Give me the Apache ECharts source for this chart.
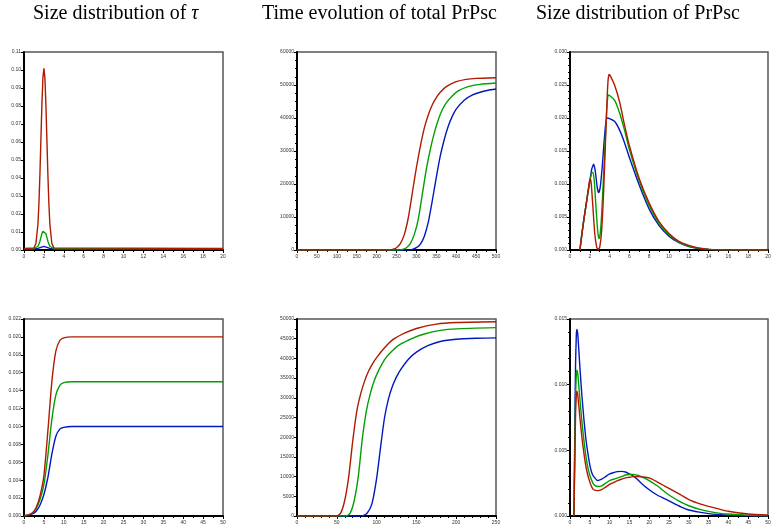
<!DOCTYPE html>
<html><head><meta charset="utf-8">
<script src="https://cdn.jsdelivr.net/npm/echarts@6/dist/echarts.min.js"></script>
<style>html,body{margin:0;padding:0;background:#fff}#c{width:777px;height:531px}</style>
</head><body><div id="c"></div>
<script>
// Panel 1: size distribution of tau
var tauX     = [0, 1.0, 1.2, 1.4, 1.5, 1.6, 1.7, 1.8, 1.9, 2.0, 2.1, 2.2, 2.3, 2.4, 2.5, 2.6, 2.8, 3.0, 20];
var tauRed   = [0.0008, 0.0012, 0.0036, 0.0143, 0.0258, 0.0420, 0.0616, 0.0810, 0.0956, 0.1010, 0.0956, 0.0810, 0.0616, 0.0420, 0.0258, 0.0143, 0.0036, 0.0012, 0.0008];
var tauGreen = [0.0007, 0.0007, 0.0010, 0.0021, 0.0033, 0.0049, 0.0070, 0.0090, 0.0104, 0.0110, 0.0104, 0.0090, 0.0070, 0.0049, 0.0033, 0.0021, 0.0010, 0.0007, 0.0007];
var tauBlue  = [0.0007, 0.0007, 0.0007, 0.0009, 0.0010, 0.0012, 0.0015, 0.0017, 0.0019, 0.0020, 0.0019, 0.0017, 0.0015, 0.0012, 0.0010, 0.0009, 0.0007, 0.0007, 0.0007];

// Panel 2: time evolution of total PrPsc
var totRedX   = [0, 230, 240, 250, 260, 270, 280, 290, 300, 310, 320, 330, 340, 350, 360, 375, 400, 425, 450, 500];
var totRed    = [0, 0, 200, 700, 2000, 4800, 10000, 17500, 25000, 31500, 37000, 41000, 44000, 46200, 47800, 49500, 51000, 51700, 52000, 52200];
var totGreenX = [0, 255, 265, 275, 285, 295, 305, 315, 325, 335, 345, 355, 365, 375, 390, 405, 430, 460, 500];
var totGreen  = [0, 0, 200, 700, 2000, 4800, 9500, 17000, 24500, 30500, 35500, 39500, 42500, 44600, 46700, 48200, 49500, 50200, 50600];
var totBlueX  = [0, 280, 290, 300, 310, 320, 330, 340, 350, 360, 370, 380, 390, 400, 420, 440, 460, 480, 500];
var totBlue   = [0, 0, 200, 700, 1800, 4200, 8500, 15000, 22000, 28500, 33500, 37500, 40500, 42700, 45400, 46900, 47800, 48400, 48800];

// Panel 3: size distribution of PrPsc
var szRedX   = [1.0, 1.2, 1.4, 1.6, 1.8, 1.95, 2.05, 2.15, 2.3, 2.5, 2.7, 2.85, 3.0, 3.2, 3.4, 3.6, 3.75, 3.85, 3.95, 4.1, 4.5, 5, 5.5, 6, 7, 8, 9, 10, 11, 12, 13, 14, 16, 20];
var szRed    = [0, 0.0024, 0.0046, 0.0066, 0.0086, 0.0103, 0.0108, 0.0100, 0.0068, 0.0025, 0.0004, 0.0001, 0.0004, 0.0030, 0.0090, 0.0170, 0.0230, 0.0258, 0.0266, 0.0263, 0.0250, 0.0225, 0.0190, 0.0158, 0.0108, 0.0071, 0.0043, 0.0025, 0.0013, 0.0007, 0.0003, 0.0001, 0.00002, 0];
var szGreenX = [1.0, 1.2, 1.4, 1.6, 1.8, 2.0, 2.15, 2.3, 2.45, 2.6, 2.8, 2.92, 3.05, 3.2, 3.4, 3.6, 3.75, 3.87, 4.0, 4.5, 5, 5.5, 6, 7, 8, 9, 10, 11, 12, 13, 14, 16, 20];
var szGreen  = [0, 0.0024, 0.0046, 0.0066, 0.0086, 0.0104, 0.0114, 0.0118, 0.0105, 0.0070, 0.0028, 0.0017, 0.0025, 0.0055, 0.0115, 0.0180, 0.0222, 0.0235, 0.0234, 0.0227, 0.0208, 0.0182, 0.0152, 0.0104, 0.0067, 0.0040, 0.0023, 0.0012, 0.0006, 0.00025, 0.0001, 0.00002, 0];
var szBlueX  = [1.0, 1.2, 1.4, 1.6, 1.8, 2.0, 2.2, 2.39, 2.55, 2.75, 2.89, 3.05, 3.25, 3.45, 3.6, 3.76, 4.0, 4.5, 5, 5.5, 6, 7, 8, 9, 10, 11, 12, 13, 14, 16, 20];
var szBlue   = [0, 0.0024, 0.0046, 0.0066, 0.0086, 0.0104, 0.0123, 0.0130, 0.0120, 0.0095, 0.0087, 0.0095, 0.0125, 0.0165, 0.0190, 0.0200, 0.0199, 0.0195, 0.0182, 0.0163, 0.0140, 0.0098, 0.0062, 0.0037, 0.0021, 0.0011, 0.0005, 0.0002, 0.0001, 0.00002, 0];

// Panel 4: second row, left
var t4X     = [0, 1, 2, 3, 4, 5, 6, 7, 8, 9, 10, 12, 50];
var t4Red   = [0, 0.0001, 0.0003, 0.0009, 0.0022, 0.0045, 0.0095, 0.0150, 0.0184, 0.0196, 0.0199, 0.0200, 0.0200];
var t4Green = [0, 0.0001, 0.0003, 0.0008, 0.0018, 0.0035, 0.0068, 0.0108, 0.0135, 0.0146, 0.0149, 0.0150, 0.0150];
var t4Blue  = [0, 0.0001, 0.0002, 0.0005, 0.0012, 0.0024, 0.0043, 0.0069, 0.0089, 0.0097, 0.0099, 0.0100, 0.0100];

// Panel 5: second row, middle
var t5RedX   = [0, 50, 55, 60, 65, 70, 75, 80, 85, 90, 95, 100, 110, 120, 135, 150, 175, 200, 250];
var t5Red    = [0, 0, 800, 4000, 10000, 19000, 26500, 31000, 34300, 36800, 38700, 40200, 42700, 44700, 46400, 47600, 48700, 49100, 49300];
var t5GreenX = [0, 62, 67, 72, 77, 82, 87, 92, 97, 102, 110, 120, 130, 145, 160, 180, 200, 250];
var t5Green  = [0, 0, 800, 4000, 10000, 19500, 26500, 31000, 34300, 36700, 39700, 42000, 43600, 45100, 46200, 47100, 47500, 47800];
var t5BlueX  = [0, 82, 88, 94, 100, 105, 110, 115, 120, 125, 130, 140, 150, 165, 180, 200, 225, 250];
var t5Blue   = [0, 0, 700, 3000, 9500, 17500, 25000, 29800, 33000, 35300, 37100, 39800, 41600, 43300, 44300, 44850, 45100, 45200];

// Panel 6: second row, right
var s6X     = [1.0, 1.2, 1.4, 1.6, 1.76, 2.0, 2.5, 3, 3.5, 4, 4.5, 5, 5.5, 6, 7, 8, 9, 10, 11, 12, 13, 14, 15, 16, 17, 18, 20, 22, 25, 28, 30, 33, 35, 38, 40, 45, 50];
var s6Red   = [0, 0.0040, 0.0077, 0.0092, 0.0095, 0.0091, 0.0075, 0.0060, 0.0048, 0.0038, 0.0031, 0.0026, 0.0022, 0.0020, 0.00193, 0.0020, 0.0022, 0.0024, 0.00255, 0.0027, 0.0028, 0.0029, 0.00295, 0.0030, 0.0030, 0.00298, 0.0029, 0.0026, 0.0021, 0.0016, 0.00125, 0.0009, 0.00073, 0.0005, 0.00036, 0.00015, 0.00008];
var s6Green = [0, 0.0048, 0.0090, 0.0108, 0.0111, 0.0107, 0.0089, 0.0072, 0.0058, 0.0046, 0.0037, 0.0031, 0.0027, 0.0024, 0.00225, 0.0023, 0.0025, 0.0027, 0.0028, 0.0029, 0.0030, 0.00312, 0.00316, 0.00317, 0.0031, 0.0030, 0.0027, 0.0023, 0.0016, 0.00105, 0.00078, 0.00048, 0.00035, 0.0002, 0.00015, 0.00006, 0.00002];
var s6Blue  = [0, 0.0060, 0.0115, 0.0138, 0.0142, 0.0137, 0.0113, 0.0092, 0.0074, 0.0059, 0.0048, 0.0039, 0.0033, 0.0030, 0.0027, 0.0028, 0.0030, 0.0032, 0.0033, 0.00338, 0.0034, 0.00335, 0.0032, 0.00303, 0.0028, 0.0025, 0.0020, 0.0016, 0.00115, 0.0007, 0.00046, 0.00028, 0.00018, 0.0001, 0.00006, 0.00002, 0];

var titles = ['Size distribution of {i|τ}', 'Time evolution of total PrPsc', 'Size distribution of PrPsc'];
var titleLeft = [33, 262, 536];

var RED = '#b01a00', GREEN = '#00a000', BLUE = '#0018c0';

function pairs(xs, ys) { return xs.map(function (x, i) { return [x, ys[i]]; }); }

var grids = [
  {left: 24, top: 52, width: 199, height: 198},
  {left: 297, top: 52, width: 199, height: 198},
  {left: 570, top: 52, width: 198, height: 198},
  {left: 24, top: 319, width: 199, height: 197},
  {left: 297, top: 319, width: 199, height: 197},
  {left: 570, top: 319, width: 198, height: 197}
];
grids.forEach(function (g) { g.show = true; g.borderColor = '#555'; g.borderWidth = 1.5; g.backgroundColor = '#fff'; });

var lab = {fontSize: 5, color: '#333', fontFamily: 'Liberation Sans'};
function xAx(i, max, interval, minorSplit) {
  return {type: 'value', gridIndex: i, min: 0, max: max, interval: interval,
    axisLine: {show: true, onZero: false, lineStyle: {color: '#000', width: 2}},
    axisTick: {show: true, inside: false, length: 3, lineStyle: {color: '#000', width: 1}},
    minorTick: {show: minorSplit > 1, splitNumber: minorSplit, length: 2, lineStyle: {color: '#000', width: 1}},
    axisLabel: Object.assign({margin: 4, showMaxLabel: true, showMinLabel: true}, lab),
    splitLine: {show: false}};
}
function yAx(i, max, interval, minorSplit, dec) {
  return {type: 'value', gridIndex: i, min: 0, max: max, interval: interval,
    axisLine: {show: true, onZero: false, lineStyle: {color: '#000', width: 2}},
    axisTick: {show: true, inside: false, length: 3, lineStyle: {color: '#000', width: 1}},
    minorTick: {show: minorSplit > 1, splitNumber: minorSplit, length: 2, lineStyle: {color: '#000', width: 1}},
    axisLabel: Object.assign({margin: 3, showMaxLabel: true, showMinLabel: true,
      formatter: function (v) { return dec < 0 ? String(Math.round(v)) : v.toFixed(dec); }}, lab),
    splitLine: {show: false}};
}

var xAxes = [xAx(0, 20, 2, 2), xAx(1, 500, 50, 2), xAx(2, 20, 2, 2), xAx(3, 50, 5, 2), xAx(4, 250, 50, 5), xAx(5, 50, 5, 2)];
var yAxes = [yAx(0, 0.11, 0.01, 1, 2), yAx(1, 60000, 10000, 4, -1), yAx(2, 0.030, 0.005, 5, 3),
             yAx(3, 0.022, 0.002, 1, 3), yAx(4, 50000, 5000, 2, -1), yAx(5, 0.015, 0.005, 5, 3)];

function line(idx, xs, ys, color, smooth) {
  return {type: 'line', xAxisIndex: idx, yAxisIndex: idx, data: pairs(xs, ys), showSymbol: false,
    symbol: 'none', smooth: smooth, lineStyle: {color: color, width: 1.4}, silent: true, animation: false, clip: true};
}

var S = 0.2;
var series = [
  line(0, tauX, tauBlue, BLUE, false), line(0, tauX, tauGreen, GREEN, false), line(0, tauX, tauRed, RED, false),
  line(1, totBlueX, totBlue, BLUE, S), line(1, totGreenX, totGreen, GREEN, S), line(1, totRedX, totRed, RED, S),
  line(2, szBlueX, szBlue, BLUE, S), line(2, szGreenX, szGreen, GREEN, S), line(2, szRedX, szRed, RED, S),
  line(3, t4X, t4Blue, BLUE, S), line(3, t4X, t4Green, GREEN, S), line(3, t4X, t4Red, RED, S),
  line(4, t5BlueX, t5Blue, BLUE, S), line(4, t5GreenX, t5Green, GREEN, S), line(4, t5RedX, t5Red, RED, S),
  line(5, s6X, s6Blue, BLUE, S), line(5, s6X, s6Green, GREEN, S), line(5, s6X, s6Red, RED, S)
];

var titleOpts = titles.map(function (t, i) {
  return {text: t, left: titleLeft[i], top: 4, padding: 0,
    textStyle: {fontFamily: 'Liberation Serif', fontSize: 20, fontWeight: 'normal', color: '#000',
      rich: {i: {fontFamily: 'Liberation Serif', fontSize: 20, fontStyle: 'italic', color: '#000'}}}};
});

var chart = echarts.init(document.getElementById('c'), null, {renderer: 'canvas'});
chart.setOption({
  backgroundColor: '#fff',
  animation: false,
  title: titleOpts,
  grid: grids,
  xAxis: xAxes,
  yAxis: yAxes,
  series: series
});
</script>
</body></html>
